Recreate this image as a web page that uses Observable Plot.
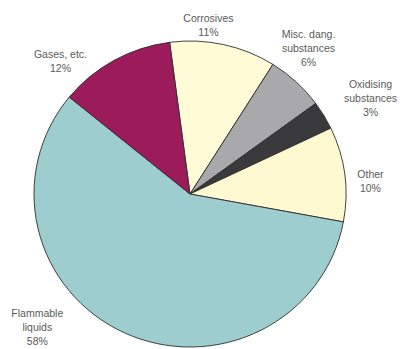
<!DOCTYPE html>
<html>
<head>
<meta charset="utf-8">
<script src="https://cdn.jsdelivr.net/npm/d3@7"></script>
<script src="https://cdn.jsdelivr.net/npm/@observablehq/plot@0.6"></script>
<style>
  html, body { margin: 0; padding: 0; background: #fff; }
  svg { display: block; }
</style>
</head>
<body>
<div id="chart"></div>
<script>
// Data (clockwise order, starting just left of 12 o'clock)
const categories = ["Corrosives", "Misc. dang.\nsubstances", "Oxidising\nsubstances", "Other", "Flammable\nliquids", "Gases, etc."];
const shares = [11, 6, 3, 10, 58, 12];
const colors = ["#fefbd6", "#a9a8ab", "#3a3a3c", "#fef9d0", "#9dcdcf", "#9c1b5b"];

// Layout: label placement (angle in degrees clockwise from top, radius in pie radii)
const labelAngles = [5.9, 38.2, 61.2, 85.5, 228.7, 316.5];
const labelRadii = [1.120, 1.223, 1.317, 1.157, 1.307, 1.211];

const startDeg = -7.5;
const pie = d3.pie().sort(null).value(d => d.share)
  .startAngle(startDeg * Math.PI / 180)
  .endAngle(startDeg * Math.PI / 180 + 2 * Math.PI);

const table = categories.map((c, i) => ({category: c, share: shares[i], color: colors[i]}));
const arcs = pie(table);

const labels = table.map((d, i) => {
  const a = labelAngles[i] * Math.PI / 180;
  return {
    text: d.category + "\n" + d.share + "%",
    x: labelRadii[i] * Math.sin(a),
    y: labelRadii[i] * Math.cos(a)
  };
});

function pieMark(index, scales, values, dimensions) {
  const cx = scales.x(0), cy = scales.y(0);
  const rx = scales.x(1) - scales.x(0);
  const ry = scales.y(0) - scales.y(1);
  const arc = d3.arc().innerRadius(0).outerRadius(rx);
  const g = d3.create("svg:g").attr("transform", `translate(${cx},${cy}) scale(1,${ry / rx})`);
  g.selectAll("path").data(arcs).join("path")
    .attr("d", arc)
    .attr("fill", d => d.data.color)
    .attr("stroke", "#2e2e2e")
    .attr("stroke-width", 0.9)
    .attr("vector-effect", "non-scaling-stroke")
    .attr("stroke-linejoin", "round");
  return g.node();
}

const CX = 190, CY = 194, RX = 156, RY = 153;
const chart = Plot.plot({
  width: 400,
  height: 349,
  margin: 0,
  x: {domain: [-CX / RX, (400 - CX) / RX], axis: null},
  y: {domain: [-(349 - CY) / RY, CY / RY], axis: null},
  style: {background: "#fff", fontFamily: "'Liberation Sans', Arial, sans-serif"},
  marks: [
    pieMark,
    Plot.text(labels, {
      x: "x", y: "y", text: "text",
      fontSize: 10.5, lineHeight: 1.34,
      fill: "#5a5a5a", textAnchor: "middle", lineAnchor: "middle"
    })
  ]
});
document.getElementById("chart").appendChild(chart);
</script>
</body>
</html>
